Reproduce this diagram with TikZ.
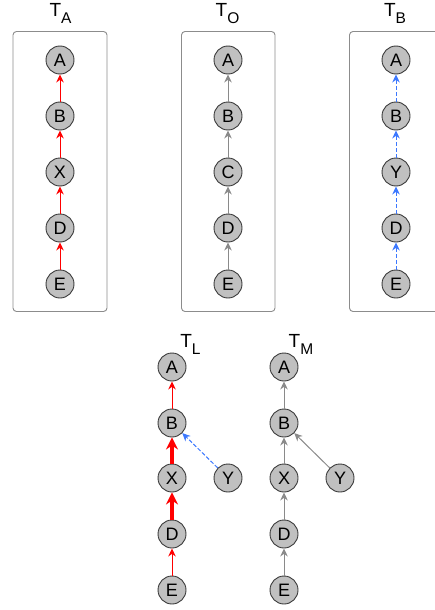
\documentclass[tikz,border=0pt]{standalone}
\usepackage{fontspec}
\setmainfont{Liberation Sans}
\usetikzlibrary{arrows.meta}
\definecolor{vfill}{HTML}{C0C0C0}
\definecolor{vline}{HTML}{3A3A3A}
\definecolor{boxline}{HTML}{8C8C8C}
\definecolor{grayedge}{HTML}{8A8A8A}
\definecolor{blueedge}{HTML}{3C78FF}
\newcommand{\treetitle}[2]{{\fontsize{19}{19}\selectfont T}\raisebox{-7pt}{\fontsize{15.5}{15.5}\selectfont #2}}
\begin{document}
\begin{tikzpicture}[x=1pt,y=-1pt,
  vtx/.style={circle, draw=vline, fill=vfill, line width=0.9pt, minimum size=28pt,
    inner sep=0pt, font=\fontsize{18}{18}\selectfont},
  treebox/.style={draw=boxline, rounded corners=3.5pt, line width=0.9pt},
  title/.style={anchor=base, inner sep=0pt},
  redge/.style={draw=red, line width=1pt, -{Stealth[length=8pt,width=7.5pt]}},
  redgethick/.style={draw=red, line width=3.6pt, -{Stealth[length=12pt,width=12pt]}},
  gedge/.style={draw=grayedge, line width=1pt, -{Stealth[length=8pt,width=7.5pt]}},
  bedge/.style={draw=blueedge, line width=1pt, dash pattern=on 4pt off 2pt,
    -{Stealth[length=8pt,width=7.5pt]}}]
\useasboundingbox (0,0) rectangle (435,610);

% boxes round the three input trees
\draw[treebox] (13,31.5) rectangle (107,311.5);
\draw[treebox] (181.5,31.5) rectangle (275,311.5);
\draw[treebox] (349.5,31.5) rectangle (445,311.5);

% titles
\node[title] (tA) at (60.5,17) {\treetitle{T}{A}};
\node[title] (tO) at (227.5,17) {\treetitle{T}{O}};
\node[title] (tB) at (395,17) {\treetitle{T}{B}};
\node[title] (tL) at (190.5,347) {\treetitle{T}{L}};
\node[title] (tM) at (301,347) {\treetitle{T}{M}};

% tree A
\node[vtx] (aA) at (60,60) {A};
\node[vtx] (aB) at (60,116) {B};
\node[vtx] (aX) at (60,172) {X};
\node[vtx] (aD) at (60,228) {D};
\node[vtx] (aE) at (60,284) {E};
\draw[redge] (aB) -- (aA);
\draw[redge] (aX) -- (aB);
\draw[redge] (aD) -- (aX);
\draw[redge] (aE) -- (aD);

% tree O
\node[vtx] (oA) at (228,60) {A};
\node[vtx] (oB) at (228,116) {B};
\node[vtx] (oC) at (228,172) {C};
\node[vtx] (oD) at (228,228) {D};
\node[vtx] (oE) at (228,284) {E};
\draw[gedge] (oB) -- (oA);
\draw[gedge] (oC) -- (oB);
\draw[gedge] (oD) -- (oC);
\draw[gedge] (oE) -- (oD);

% tree B
\node[vtx] (bA) at (396,60) {A};
\node[vtx] (bB) at (396,116) {B};
\node[vtx] (bY) at (396,172) {Y};
\node[vtx] (bD) at (396,228) {D};
\node[vtx] (bE) at (396,284) {E};
\draw[bedge] (bB) -- (bA);
\draw[bedge] (bY) -- (bB);
\draw[bedge] (bD) -- (bY);
\draw[bedge] (bE) -- (bD);

% tree L
\node[vtx] (lA) at (172,367) {A};
\node[vtx] (lB) at (172,423) {B};
\node[vtx] (lX) at (172,478) {X};
\node[vtx] (lD) at (172,534) {D};
\node[vtx] (lE) at (172,590) {E};
\node[vtx] (lY) at (228,478) {Y};
\draw[redge] (lB) -- (lA);
\draw[redgethick] (lX) -- (lB);
\draw[redgethick] (lD) -- (lX);
\draw[redge] (lE) -- (lD);
\draw[bedge] (lY) -- (lB);

% tree M
\node[vtx] (mA) at (284,367) {A};
\node[vtx] (mB) at (284,423) {B};
\node[vtx] (mX) at (284,478) {X};
\node[vtx] (mD) at (284,534) {D};
\node[vtx] (mE) at (284,590) {E};
\node[vtx] (mY) at (340,478) {Y};
\draw[gedge] (mB) -- (mA);
\draw[gedge] (mX) -- (mB);
\draw[gedge] (mD) -- (mX);
\draw[gedge] (mE) -- (mD);
\draw[gedge] (mY) -- (mB);
\end{tikzpicture}
\end{document}
